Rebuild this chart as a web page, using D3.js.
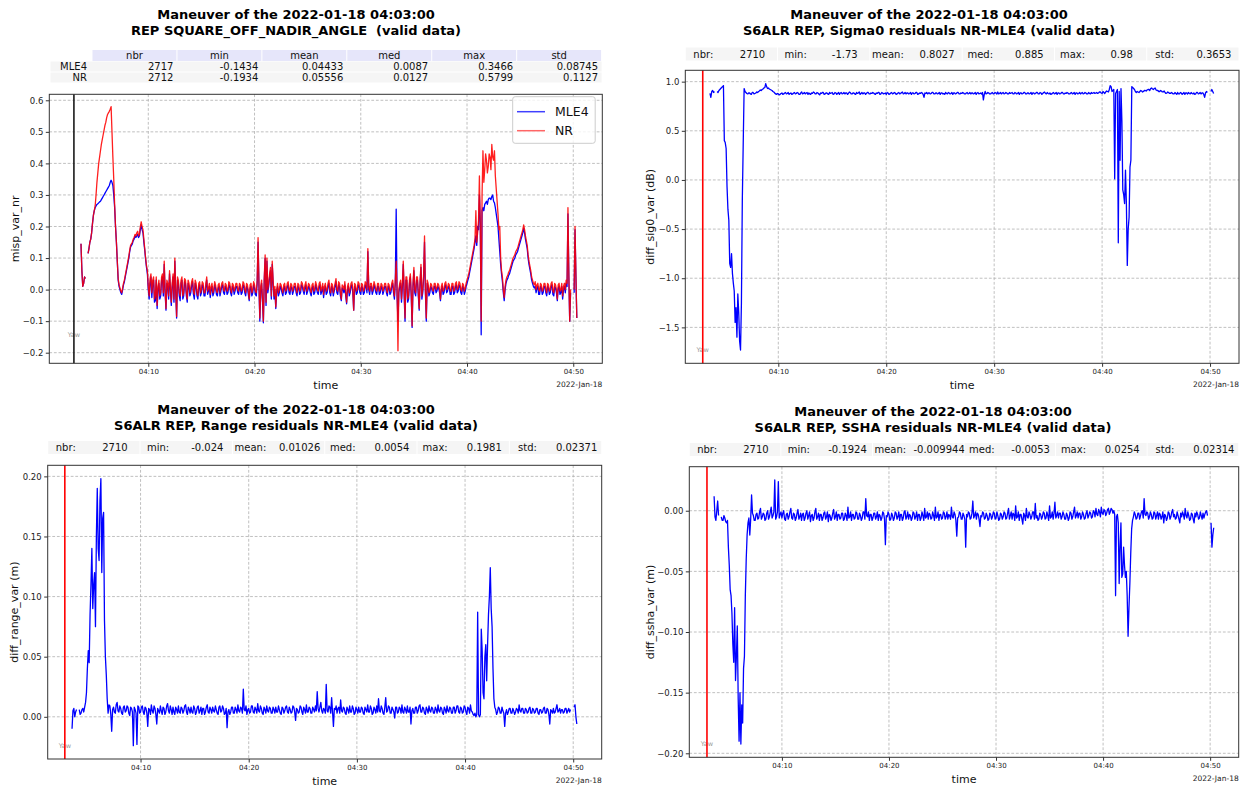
<!DOCTYPE html>
<html>
<head>
<meta charset="utf-8">
<title>Maneuver of the 2022-01-18 04:03:00</title>
<script src="https://cdn.jsdelivr.net/npm/d3@7/dist/d3.min.js"></script>
<style>
  html, body { margin: 0; padding: 0; background: #ffffff; }
  svg { display: block; }
  text { font-family: "DejaVu Sans", "Liberation Sans", sans-serif; }
</style>
</head>
<body>
<svg id="fig" width="1244" height="789"></svg>
<script>
// ---------------------------------------------------------------------------
// Data. Each series has values on the 10-second marks starting 04:03:40 UTC
// (xxx) and values at the 5-second instants in between (xxxMid).
// null = no valid measurement.
// ---------------------------------------------------------------------------
const maneuverTime = "2022-01-18T04:03:00Z";
const sampleStart = "2022-01-18T04:03:40Z";
const sampleStepSec = 10;
const timeTicks = ["2022-01-18T04:10:00Z", "2022-01-18T04:20:00Z", "2022-01-18T04:30:00Z",
                   "2022-01-18T04:40:00Z", "2022-01-18T04:50:00Z"];
const dateLabel = "2022-Jan-18";

// square off-nadir angle, MLE4 retracker
const mispMLE4 = [
  .145,.01,.04,null,.115,.15,.18,.235,.26,.27,
  .275,.28,.29,.30,.31,.32,.33,.3466,.33,.26,
  .15,.03,.0,-.015,.015,.04,.07,.1,.135,.145,
  .16,.165,.175,.17,.205,.18,.125,.07,.0,.02,
  -.025,.03,-.035,-.06,.02,-.02,.04,.08,-.065,.01,
  .05,-.05,.04,.09,-.09,.02,-.035,.03,-.02,.02,
  -.04,.01,-.01,.025,-.03,.01,-.03,.015,-.01,.01,
  -.02,.03,-.005,-.025,.01,-.01,.005,-.02,.01,-.005,
  .015,-.015,.005,-.01,.01,-.02,.005,-.005,.01,-.015,
  .005,-.01,.01,-.02,.005,-.035,.01,-.01,.005,-.02,
  .15,-.1,.02,-.105,.1,.09,.01,.06,.08,-.03,
  -.06,.01,-.01,.005,-.02,.01,-.01,.015,-.015,.005,
  -.005,.01,-.02,.005,-.01,.01,-.015,.015,-.005,.005,
  -.02,.01,-.01,.005,-.015,.015,-.005,-.025,.01,-.01,
  .02,-.02,.005,-.005,.025,-.015,.01,-.035,.0,.015,
  -.045,.01,-.01,.015,-.065,.005,-.01,.01,-.015,.005,
  -.01,.01,.12,-.015,.01,-.005,.005,-.015,.01,-.01,
  .005,-.005,.01,-.02,.005,-.01,.02,-.03,.255,-.1,
  .01,-.04,.08,-.1,.03,-.03,.04,-.12,.06,-.02,
  .03,-.065,.07,-.01,.15,-.1,.01,-.01,.005,-.015,
  .01,-.005,.005,-.035,.01,-.01,.015,-.005,.005,-.015,
  .01,-.01,.015,-.005,.01,-.015,.005,-.005,.02,.04,
  .07,.1,.13,.17,.2,.3,-.1434,.26,.27,.28,
  .285,.29,.295,.28,.26,.22,.16,.08,.025,-.035,
  .02,.035,.05,.07,.09,.1,.115,.13,.15,.17,
  .195,.16,.13,.08,.05,.02,.005,-.01,.01,-.015,
  .005,-.01,.01,-.02,.005,-.01,.015,-.02,.005,-.035,
  .01,-.01,-.03,.01,.02,.24,-.1,null,null,.19,
  -.09
];
const mispMLE4Mid = [
  .06,.02,.035,null,.13,.16,.21,.25,.265,.272,
  .278,.285,.295,.305,.315,.325,.34,.34,.3,.2,
  .09,.01,-.01,.0,.025,.055,.085,.12,.14,.155,
  .17,.17,.165,.19,.19,.15,.095,.05,-.03,.04,
  .02,-.04,.03,.0,-.03,.03,-.02,-.01,.02,-.03,
  .0,.01,-.04,-.01,.03,-.02,.02,-.03,.025,-.02,
  .02,-.02,.015,-.015,.02,-.02,.01,-.02,.015,-.02,
  .01,-.015,.01,.0,-.02,.015,-.015,.005,-.02,.01,
  -.01,.01,-.015,.015,-.01,.01,-.015,.01,-.01,.01,
  -.015,.015,-.01,.01,-.015,.005,-.02,.015,-.015,.02,
  .01,.0,-.04,.03,-.05,-.01,.04,-.03,.02,.0,
  -.01,-.02,.01,-.01,.005,-.015,.01,-.01,.01,-.015,
  .01,-.01,.01,-.015,.015,-.005,.005,-.015,.01,-.01,
  .005,-.015,.015,-.01,.01,-.015,.01,.0,-.015,.01,
  -.01,.01,-.02,.01,-.01,.015,-.02,.005,-.01,-.02,
  .0,-.02,.01,-.01,.01,-.015,.015,-.01,.01,-.015,
  .015,-.01,.0,.01,-.015,.015,-.01,.01,-.015,.01,
  -.015,.01,-.01,.01,-.015,.01,-.01,.02,-.02,-.01,
  .02,.01,-.02,.03,-.04,.02,-.02,.01,-.01,.03,
  -.02,.02,-.03,.04,-.01,.02,-.02,.01,-.01,.01,
  -.01,.01,-.01,.0,-.015,.01,-.01,.01,-.015,.01,
  -.015,.01,-.01,.015,-.01,.01,-.015,.01,.03,.055,
  .085,.115,.15,.14,.19,.21,.25,.25,.275,.27,
  .29,.285,.3,.275,.24,.2,.12,.05,-.01,.0,
  .03,.045,.06,.08,.095,.11,.12,.14,.16,.18,
  .18,.145,.1,.065,.03,.01,.01,.005,-.015,.01,
  -.015,.01,-.01,.01,-.015,.01,-.015,.01,-.01,.005,
  -.015,.01,.0,-.01,.01,.04,-.01,null,-.01,.04
];

// square off-nadir angle, NR retracker
const mispNR = [
  .145,.01,.04,null,.115,.15,.18,.235,.265,.34,
  .40,.44,.475,.505,.53,.555,.565,.5799,.42,.27,
  .15,.035,.005,-.01,.02,.045,.075,.105,.14,.15,
  .165,.17,.185,.175,.215,.19,.13,.075,.01,.035,
  -.01,.04,-.02,-.05,.03,-.01,.05,.09,-.06,.02,
  .06,-.04,.05,.1,-.085,.03,-.02,.04,-.01,.03,
  -.03,.02,.005,.035,-.015,.02,-.02,.025,.0,.02,
  -.01,.04,.005,-.015,.02,.0,.015,-.01,.02,.005,
  .025,-.005,.015,.0,.02,-.01,.015,.005,.02,-.005,
  .015,.0,.02,-.01,.015,-.03,.02,.0,.015,-.01,
  .165,-.09,.03,-.1,.11,.1,.02,.07,.09,-.02,
  -.055,.02,.0,.015,-.01,.02,.0,.025,-.005,.015,
  .005,.02,-.01,.015,.0,.02,-.005,.025,.005,.015,
  -.01,.02,.0,.015,-.005,.025,.005,-.015,.02,.0,
  .03,-.01,.015,.005,.035,-.005,.02,-.03,.01,.025,
  -.04,.02,.0,.025,-.065,.015,.0,.02,-.005,.015,
  .0,.02,.13,-.005,.02,.005,.015,-.005,.02,.0,
  .015,.005,.02,-.01,.015,.0,.03,-.02,.09,-.1934,
  .02,-.03,.09,-.09,.04,-.02,.05,-.115,.07,-.01,
  .04,-.06,.08,.0,.17,-.09,.02,.0,.015,-.005,
  .02,.005,.015,-.03,.02,.0,.025,.005,.015,-.005,
  .02,.0,.025,.005,.02,-.005,.015,.005,.03,.05,
  .08,.11,.14,.25,.18,.36,-.1,.44,.38,.41,
  .39,.42,.46,.41,.36,.28,.19,.1,.04,-.025,
  .03,.045,.06,.08,.1,.11,.125,.14,.16,.18,
  .205,.17,.14,.09,.06,.03,.015,.0,.02,-.005,
  .015,.0,.02,-.01,.015,.0,.025,-.01,.015,-.03,
  .02,.0,-.02,.02,.03,.26,-.1,null,null,.2,
  -.09
];
const mispNRMid = [
  .06,.02,.035,null,.13,.16,.21,.25,.3,.37,
  .42,.46,.49,.52,.545,.56,.572,.5,.35,.2,
  .09,.015,-.005,.005,.03,.06,.09,.125,.145,.16,
  .175,.18,.17,.2,.2,.16,.1,.06,-.02,.05,
  .03,-.03,.04,.01,-.02,.04,-.01,.0,.03,-.02,
  .01,.02,-.03,.0,.04,-.01,.03,-.02,.035,-.01,
  .03,-.01,.025,-.005,.03,-.01,.02,-.01,.025,-.01,
  .02,-.005,.02,.01,-.01,.025,-.005,.015,-.01,.02,
  .0,.02,-.005,.025,.0,.02,-.005,.02,.0,.02,
  -.005,.025,.0,.02,-.005,.015,-.01,.025,-.005,.03,
  .02,.01,-.03,.04,-.04,.0,.05,-.02,.03,.01,
  .0,-.01,.02,.0,.015,-.005,.02,.0,.02,-.005,
  .02,.0,.02,-.005,.025,.005,.015,-.005,.02,.0,
  .015,-.005,.025,.0,.02,-.005,.02,.01,-.005,.02,
  .0,.02,-.01,.02,.0,.025,-.01,.015,.0,-.01,
  .01,-.01,.02,.0,.02,-.005,.025,.0,.02,-.005,
  .025,.0,.01,.02,-.005,.025,.0,.02,-.005,.02,
  -.005,.02,.0,.02,-.005,.02,.0,.03,.0,.0,
  .03,.02,.0,.04,-.03,.03,-.01,.02,.0,.04,
  -.01,.03,-.02,.05,.0,.03,-.01,.02,.0,.02,
  .0,.02,.0,.01,-.005,.02,.0,.02,-.005,.02,
  -.005,.02,.0,.025,.0,.02,-.005,.02,.04,.065,
  .095,.125,.16,.15,.22,.2,.3,.34,.43,.37,
  .43,.38,.42,.44,.32,.24,.2,.06,.0,.01,
  .04,.055,.07,.09,.105,.12,.13,.15,.17,.19,
  .19,.155,.11,.075,.04,.02,.025,.015,.0,.02,
  -.005,.02,.0,.02,-.005,.02,-.005,.02,.0,.015,
  -.005,.02,.01,.0,.02,.05,.0,null,.0,.05
];

// sigma0 difference NR - MLE4 (dB)
const sig0Diff = [
  .88,.9,.89,null,.9,.91,.93,.95,.4,.32,
  -.3,-.85,-.75,-1.05,-1.45,-1.6,-1.35,-1.73,-.2,.93,
  .89,.875,.885,.87,.89,.88,.895,.9,.915,.92,
  .935,.98,.93,.925,.915,.9,.885,.87,.875,.87,
  .885,.875,.89,.88,.87,.885,.875,.89,.88,.885,
  .87,.895,.88,.875,.89,.885,.87,.88,.89,.875,
  .885,.865,.88,.89,.875,.885,.87,.88,.89,.875,
  .885,.88,.87,.89,.88,.875,.885,.88,.89,.875,
  .885,.87,.88,.895,.88,.875,.885,.88,.89,.875,
  .88,.885,.87,.88,.89,.875,.885,.88,.87,.885,
  .875,.89,.88,.885,.875,.89,.88,.895,.88,.875,
  .885,.88,.87,.885,.88,.89,.875,.88,.885,.84,
  .88,.875,.885,.88,.89,.875,.885,.88,.87,.885,
  .88,.89,.875,.885,.88,.87,.885,.88,.89,.875,
  .88,.885,.875,.89,.88,.875,.885,.88,.87,.89,
  .88,.875,.815,.9,.88,.885,.875,.89,.88,.885,
  .895,.88,.875,.89,.88,.885,.875,.88,.89,.875,
  .885,.88,.87,.885,.88,.89,.875,.885,.88,.87,
  .885,.88,.89,.875,.885,.88,.895,.875,.88,.885,
  .875,.89,.88,.87,.885,.88,.89,.875,.88,.885,
  .875,.89,.88,.87,.885,.88,.875,.89,.88,.885,
  .875,.88,.89,.885,.88,.89,.885,.895,.88,.89,
  .895,.9,.92,.95,.91,.01,.9,-.64,.2,.6,
  -.15,.1,-.87,-.38,.2,.94,.92,.89,.895,.9,
  .905,.9,.91,.915,.92,.93,.925,.93,.915,.91,
  .9,.905,.895,.89,.885,.89,.88,.885,.875,.88,
  .89,.875,.885,.88,.87,.885,.89,.875,.88,.885,
  .875,.89,.88,.875,.885,.84,.9,null,null,.92,
  .88
];
const sig0DiffMid = [
  .84,.91,.9,null,.89,.92,.94,.96,.38,-.07,
  -.41,-.89,-.95,-1.13,-1.3,-1.16,-1.64,-1.25,.37,.9,
  .88,.885,.875,.89,.875,.885,.89,.905,.91,.925,
  .94,.95,.935,.92,.91,.895,.875,.88,.865,.88,
  .87,.885,.875,.89,.88,.87,.885,.875,.89,.87,
  .885,.875,.89,.885,.87,.875,.885,.895,.875,.89,
  .875,.885,.89,.87,.885,.875,.89,.885,.87,.89,
  .87,.89,.885,.875,.89,.885,.87,.895,.875,.885,
  .875,.89,.885,.87,.89,.885,.87,.89,.875,.885,
  .89,.875,.885,.89,.87,.89,.875,.885,.89,.87,
  .885,.875,.89,.87,.885,.875,.89,.875,.89,.885,
  .875,.89,.885,.875,.89,.87,.885,.89,.87,.885,
  .89,.885,.875,.89,.875,.885,.875,.89,.885,.875,
  .87,.88,.89,.875,.89,.885,.875,.89,.875,.885,
  .89,.875,.885,.875,.89,.885,.875,.89,.885,.875,
  .885,.89,.87,.875,.89,.875,.885,.875,.89,.875,
  .875,.89,.885,.875,.89,.875,.89,.885,.875,.89,
  .875,.89,.885,.875,.89,.875,.885,.875,.89,.885,
  .875,.89,.875,.89,.87,.89,.88,.89,.875,.87,
  .885,.875,.89,.885,.875,.89,.875,.885,.89,.875,
  .885,.875,.89,.885,.875,.89,.885,.875,.89,.875,
  .89,.875,.88,.89,.885,.88,.895,.885,.9,.88,
  .905,.895,.96,.9,.92,.88,.92,.9,.93,-.1,
  -.24,-.24,-.5,.13,.95,.93,.9,.9,.89,.91,
  .895,.91,.905,.92,.91,.935,.92,.935,.91,.9,
  .91,.895,.905,.88,.895,.88,.89,.875,.89,.87,
  .875,.89,.87,.89,.885,.875,.88,.89,.875,.87,
  .89,.875,.89,.885,.87,.885,.89,null,.9,.9
];

// range difference NR - MLE4 (m)
const rangeDiff = [
  -.01,.007,.004,null,.006,.003,.007,.008,.02,.055,
  .085,.14,.11,.075,.19,.13,.1981,.165,.08,.035,
  .003,.009,-.012,.008,.003,.012,.004,.007,.002,.009,
  .005,.008,.001,.007,-.024,.006,-.023,.008,.004,.009,
  .002,.007,-.008,.006,.01,.003,.007,-.006,.005,.009,
  .002,.007,.004,.011,.003,.006,.008,.002,.006,.009,
  .003,.007,.005,.01,.002,.006,.008,.003,.007,.004,
  .009,.005,.002,.007,.004,.01,.003,.006,.008,.004,
  .006,.002,.009,.005,.007,.003,-.009,.006,.004,.008,
  .003,.006,.01,.004,.007,.023,.005,.002,.007,.004,
  .009,.003,.006,.011,.004,.007,.002,.006,.009,.004,
  .007,.003,.006,.008,.004,.006,.002,.007,.005,.009,
  .003,.006,.004,.008,-.003,.006,.004,.008,.002,.006,
  .01,.004,.007,.003,.006,.009,.021,.004,.012,.003,
  .006,.027,.004,.008,.016,-.008,.006,.003,.008,.014,
  .004,.007,.002,.006,.009,.004,.007,.003,.006,.008,
  .004,.007,.002,.006,.01,.004,.007,.003,.006,.009,
  .015,.004,.007,.002,.016,.005,.008,.003,.006,-.001,
  .008,.004,.007,.01,.003,.006,.009,.004,-.006,.007,
  .003,.008,.005,.01,.004,.007,.002,.006,.009,.004,
  .007,.003,.006,.01,.004,.007,.002,.006,.009,.004,
  .007,.003,.008,.005,.009,.003,.007,.004,.008,.002,
  .007,.01,.004,.001,.0,.087,.0,.073,.02,.05,
  .03,.085,.124,.075,.015,.006,.004,.007,.003,.005,
  -.008,.006,.004,.007,.003,.005,.004,.006,.01,.004,
  .007,.003,.006,.004,.008,.003,.006,.004,.007,.002,
  .006,.004,.008,.003,.006,-.006,.005,.007,.004,.01,
  .005,.003,.006,.004,.007,.005,.004,null,null,.01,
  -.006
];
const rangeDiffMid = [
  .005,.0,.006,null,.002,.006,.004,.012,.04,.045,
  .11,.09,.12,.15,.14,.18,.12,.17,.05,.015,
  .01,.002,.006,.004,.01,.005,.009,.003,.008,.004,
  .009,.003,.008,.004,.008,.003,.009,.003,.008,.004,
  .008,.003,.007,.002,.005,.009,.002,.007,.003,.005,
  .008,.002,.009,.005,.009,.002,.004,.008,.003,.004,
  .008,.003,.009,.004,.008,.003,.004,.009,.002,.008,
  .003,.008,.007,.002,.008,.004,.008,.003,.005,.009,
  .003,.008,.004,.009,.002,.007,.004,.002,.008,.003,
  .008,.003,.005,.008,.003,.006,.009,.006,.003,.009,
  .004,.008,.003,.005,.009,.003,.008,.003,.005,.008,
  .003,.008,.003,.004,.009,.003,.008,.003,.008,.004,
  .008,.003,.009,.004,.007,.003,.009,.004,.008,.003,
  .004,.008,.003,.008,.004,.005,.007,.008,.005,.007,
  .003,.005,.009,.003,.004,.007,.009,.007,.003,.005,
  .008,.003,.008,.003,.004,.009,.002,.008,.003,.004,
  .008,.003,.008,.004,.004,.009,.002,.008,.003,.004,
  .005,.009,.003,.008,.004,.009,.003,.008,.004,.008,
  .003,.008,.003,.004,.008,.003,.004,.008,.005,.003,
  .008,.003,.009,.004,.008,.003,.008,.003,.005,.008,
  .003,.008,.003,.005,.008,.003,.008,.003,.005,.008,
  .003,.008,.003,.009,.004,.008,.003,.009,.004,.008,
  .003,.005,.002,.003,.002,.002,.002,.055,.015,.06,
  .06,.1,.09,.04,.008,.002,.008,.003,.008,.003,
  .003,.002,.007,.003,.007,.002,.007,.003,.005,.007,
  .003,.007,.003,.007,.003,.007,.003,.007,.003,.006,
  .003,.007,.003,.007,.002,.006,.003,.003,.007,.004,
  .007,.006,.003,.007,.003,.007,.006,null,.008,.0
];

// SSHA difference NR - MLE4 (m)
const sshaDiff = [
  .012,-.008,.008,null,-.005,-.008,-.006,-.01,-.03,-.065,
  -.085,-.125,-.14,-.095,-.19,-.1924,-.175,-.12,-.04,-.01,
  -.02,.013,-.004,-.008,-.002,-.006,.002,-.005,-.003,-.007,
  .0,-.005,.003,-.004,.0254,-.005,.024,-.003,-.006,.0,
  -.008,-.002,-.005,.002,-.007,-.003,-.006,.001,-.005,-.008,
  -.002,-.006,.0,-.004,-.009,-.003,-.006,.002,-.005,-.008,
  -.003,-.006,-.001,-.005,-.009,-.004,-.006,.001,-.005,-.008,
  -.003,-.006,-.002,-.007,-.004,.003,-.005,-.008,-.003,-.006,
  -.002,-.007,-.004,-.006,-.001,.01,-.005,-.008,-.003,-.006,
  -.002,-.005,-.008,-.004,-.006,-.002,-.028,-.005,-.003,-.007,
  -.004,-.006,-.002,-.005,-.008,-.003,-.006,.0,-.005,-.007,
  -.004,-.006,-.002,-.005,-.008,-.003,-.006,-.004,.002,-.005,
  -.007,-.003,-.006,-.004,.003,-.005,-.008,-.003,-.006,-.002,
  -.005,-.007,-.004,.003,-.006,-.003,-.021,-.005,-.002,-.007,
  -.004,-.03,-.005,-.002,-.006,.008,-.004,-.007,-.003,-.013,
  -.005,-.002,-.006,-.004,-.007,-.003,-.005,-.002,-.006,-.004,
  -.007,-.003,-.005,-.002,-.006,.002,-.004,-.007,-.003,.004,
  -.005,-.008,-.003,-.011,-.004,.002,-.006,-.003,-.005,-.001,
  .006,-.004,-.007,-.003,-.005,-.002,-.006,-.004,.004,-.005,
  -.007,.007,-.004,-.006,-.002,-.005,-.003,-.007,-.004,-.006,
  -.002,-.005,.003,-.004,-.006,-.002,-.005,-.003,-.006,.0,
  -.004,-.002,-.005,-.001,.002,-.004,-.001,.003,-.003,.0,
  -.002,.002,-.001,.001,.0,-.07,-.003,-.06,-.01,-.052,
  -.045,-.05,-.1035,-.06,-.015,-.005,-.003,-.006,-.002,-.004,
  .0,.01,-.004,-.002,-.005,-.003,-.006,-.002,-.004,-.007,
  -.003,-.005,-.01,-.004,-.006,-.002,-.005,.001,-.003,-.006,
  -.004,-.01,-.005,-.003,.002,-.006,-.004,-.007,-.003,-.01,
  -.005,-.003,-.006,-.004,-.002,-.003,.0,null,null,-.03,
  -.014
];
const sshaDiffMid = [
  -.005,.0,-.004,null,-.008,-.004,-.009,-.008,-.045,-.07,
  -.11,-.08,-.12,-.155,-.15,-.16,-.13,-.07,-.02,-.006,
  -.007,-.002,-.008,-.003,-.007,-.001,-.007,-.002,-.008,-.002,
  -.007,-.001,-.006,-.001,-.007,-.001,-.006,-.001,-.002,-.007,
  -.003,-.007,-.001,-.006,-.002,-.008,-.002,-.007,-.002,-.003,
  -.008,-.002,-.007,-.001,-.004,-.008,-.001,-.007,-.002,-.003,
  -.008,-.002,-.007,-.001,-.003,-.008,-.002,-.007,-.001,-.003,
  -.007,-.002,-.008,-.002,-.008,-.006,-.001,-.003,-.007,-.001,
  -.007,-.002,-.008,-.001,-.007,-.004,-.001,-.003,-.008,-.002,
  -.007,-.001,-.003,-.008,-.001,-.007,-.004,-.001,-.008,-.002,
  -.008,-.001,-.007,-.001,-.003,-.008,-.001,-.007,-.001,-.003,
  -.008,-.001,-.007,-.001,-.003,-.008,-.001,-.008,-.006,-.001,
  -.002,-.007,-.001,-.008,-.006,-.001,-.003,-.007,-.001,-.007,
  -.001,-.003,-.007,-.005,-.001,-.008,-.006,-.001,-.007,-.002,
  -.007,-.003,-.001,-.007,-.002,-.006,-.001,-.002,-.007,-.004,
  -.001,-.007,-.002,-.008,-.002,-.007,-.001,-.007,-.001,-.008,
  -.002,-.007,-.001,-.007,-.002,-.007,-.001,-.002,-.008,-.006,
  -.001,-.003,-.007,-.002,-.008,-.005,-.001,-.007,-.001,-.007,
  -.006,-.008,-.002,-.007,-.001,-.007,-.001,-.008,-.006,-.001,
  -.002,-.006,-.001,-.002,-.007,-.001,-.007,-.002,-.008,-.001,
  -.007,-.001,-.006,-.001,-.002,-.007,-.001,-.007,-.002,-.006,
  -.001,-.006,.0,-.005,-.003,.001,-.005,-.002,.001,-.004,
  .001,-.003,.002,-.002,-.003,-.005,-.01,-.03,-.055,-.03,
  -.055,-.07,-.08,-.035,-.008,-.001,-.007,-.002,-.007,-.001,
  -.006,-.003,-.001,-.007,-.001,-.007,-.001,-.007,-.001,-.002,
  -.007,-.001,-.003,-.008,-.001,-.007,-.001,-.005,-.007,-.001,
  -.007,-.002,-.001,-.007,-.004,-.001,-.008,-.002,-.007,-.002,
  -.001,-.007,-.001,-.007,-.006,-.001,-.004,null,-.01,-.02
];

// axis ticks
const mispTicks = [-0.2, -0.1, 0, 0.1, 0.2, 0.3, 0.4, 0.5, 0.6];
const sig0Ticks = [-1.5, -1.0, -0.5, 0, 0.5, 1.0];
const rangeTicks = [0, 0.05, 0.10, 0.15, 0.20];
const sshaTicks = [-0.20, -0.15, -0.10, -0.05, 0];

// summary statistics shown above each plot
const statsFields = ["nbr", "min", "mean", "med", "max", "std"];
const mispStatsRows = ["MLE4", "NR"];
const mispStatsMLE4 = ["2717", "-0.1434", "0.04433", "0.0087", "0.3466", "0.08745"];
const mispStatsNR = ["2712", "-0.1934", "0.05556", "0.0127", "0.5799", "0.1127"];
const sig0Stats = ["2710", "-1.73", "0.8027", "0.885", "0.98", "0.3653"];
const rangeStats = ["2710", "-0.024", "0.01026", "0.0054", "0.1981", "0.02371"];
const sshaStats = ["2710", "-0.1924", "-0.009944", "-0.0053", "0.0254", "0.02314"];

// ---------------------------------------------------------------------------
// Drawing
// ---------------------------------------------------------------------------
const svg = d3.select("#fig");
const t0 = Date.parse(sampleStart);
const stepMs = sampleStepSec * 1000;

// merge the on-mark values and the half-step values into one time-ordered series
function toPoints(vals, mids) {
  const pts = [];
  vals.forEach((v, i) => {
    pts.push({ t: new Date(t0 + i * stepMs), v });
    if (mids && i < mids.length) pts.push({ t: new Date(t0 + i * stepMs + stepMs / 2), v: mids[i] });
  });
  return pts;
}
const uminus = s => s.replace(/-/g, "\u2212");
const titleLine1 = "Maneuver of the 2022-01-18 04:03:00";

const panels = [
  {
    key: "misp", left: 49.3, right: 602.3, top: 94.3, bottom: 363.3,
    xDomain: ["2022-01-18T04:00:41Z", "2022-01-18T04:52:44Z"], yDomain: [-0.2336, 0.619],
    yTicks: mispTicks, yFmt: ".1f", yLabel: "misp_var_nr", yLabelX: 15,
    title: [titleLine1, "REP SQUARE_OFF_NADIR_ANGLE  (valid data)"], titleX: 296, titleY: 19,
    markerColor: "#1a1a1a", yawAt: -0.1434,
    series: [{ name: "MLE4", values: mispMLE4, mids: mispMLE4Mid, color: "#0000ff", opacity: 1, legendOpacity: 0.75 },
             { name: "NR", values: mispNR, mids: mispNRMid, color: "#ff0000", opacity: 0.88, legendOpacity: 0.6 }],
    legend: true
  },
  {
    key: "sig0", left: 685.3, right: 1239, top: 70.3, bottom: 363.3,
    xDomain: ["2022-01-18T04:01:23Z", "2022-01-18T04:52:41Z"], yDomain: [-1.8655, 1.1155],
    yTicks: sig0Ticks, yFmt: ".1f", yLabel: "diff_sig0_var (dB)", yLabelX: 650,
    title: [titleLine1, "S6ALR REP, Sigma0 residuals NR-MLE4 (valid data)"], titleX: 929, titleY: 19,
    markerColor: "#ff0000", yawAt: -1.73,
    series: [{ name: "diff", values: sig0Diff, mids: sig0DiffMid, color: "#0000ff", opacity: 1 }],
    strip: { stats: sig0Stats, top: 47.5 }
  },
  {
    key: "range", left: 47.7, right: 601.7, top: 465.3, bottom: 759,
    xDomain: ["2022-01-18T04:01:25Z", "2022-01-18T04:52:38Z"], yDomain: [-0.0351, 0.2092],
    yTicks: rangeTicks, yFmt: ".2f", yLabel: "diff_range_var (m)", yLabelX: 14,
    title: [titleLine1, "S6ALR REP, Range residuals NR-MLE4 (valid data)"], titleX: 296, titleY: 414,
    markerColor: "#ff0000", yawAt: -0.024,
    series: [{ name: "diff", values: rangeDiff, mids: rangeDiffMid, color: "#0000ff", opacity: 1 }],
    strip: { stats: rangeStats, top: 441 }
  },
  {
    key: "ssha", left: 689.3, right: 1238.7, top: 466.7, bottom: 757.3,
    xDomain: ["2022-01-18T04:01:21Z", "2022-01-18T04:52:40Z"], yDomain: [-0.2033, 0.0363],
    yTicks: sshaTicks, yFmt: ".2f", yLabel: "diff_ssha_var (m)", yLabelX: 650,
    title: [titleLine1, "S6ALR REP, SSHA residuals NR-MLE4 (valid data)"], titleX: 933, titleY: 416,
    markerColor: "#ff0000", yawAt: -0.1924,
    series: [{ name: "diff", values: sshaDiff, mids: sshaDiffMid, color: "#0000ff", opacity: 1 }],
    strip: { stats: sshaStats, top: 443 }
  }
];

function drawPanel(p) {
  const g = svg.append("g").attr("class", "panel-" + p.key);
  const x = d3.scaleUtc().domain(p.xDomain.map(d => new Date(d))).range([p.left, p.right]);
  const y = d3.scaleLinear().domain(p.yDomain).range([p.bottom, p.top]);
  const xt = timeTicks.map(d => new Date(d));
  const cx = (p.left + p.right) / 2;

  // dashed grid
  const grid = g.append("g").attr("stroke", "#b0b0b0").attr("stroke-width", 0.8)
    .attr("stroke-dasharray", "2.8,1.8");
  grid.selectAll("line.gx").data(xt).join("line").attr("class", "gx")
    .attr("x1", d => x(d)).attr("x2", d => x(d)).attr("y1", p.top).attr("y2", p.bottom);
  grid.selectAll("line.gy").data(p.yTicks).join("line").attr("class", "gy")
    .attr("x1", p.left).attr("x2", p.right).attr("y1", d => y(d)).attr("y2", d => y(d));

  // clip region for the data
  const clipId = "clip-" + p.key;
  g.append("clipPath").attr("id", clipId).append("rect")
    .attr("x", p.left).attr("y", p.top).attr("width", p.right - p.left).attr("height", p.bottom - p.top);

  // "Yaw" annotation at the maneuver time
  const xm = x(new Date(maneuverTime));
  g.append("text").attr("x", xm).attr("y", y(p.yawAt)).attr("text-anchor", "middle")
    .attr("dominant-baseline", "central").attr("font-size", 6.5).attr("fill", "#999999").text("Yaw");

  const line = d3.line().defined(d => d.v !== null).x(d => x(d.t)).y(d => y(d.v));
  p.series.forEach(s => {
    g.append("path").datum(toPoints(s.values, s.mids)).attr("d", line)
      .attr("fill", "none").attr("stroke", s.color).attr("stroke-opacity", s.opacity)
      .attr("stroke-width", 1.3).attr("stroke-linejoin", "round").attr("clip-path", `url(#${clipId})`);
  });

  // maneuver marker
  g.append("line").attr("x1", xm).attr("x2", xm).attr("y1", p.top).attr("y2", p.bottom)
    .attr("stroke", p.markerColor).attr("stroke-width", 1.6);

  // frame
  g.append("rect").attr("x", p.left).attr("y", p.top).attr("width", p.right - p.left)
    .attr("height", p.bottom - p.top).attr("fill", "none").attr("stroke", "#333").attr("stroke-width", 1);

  // axes
  const ax = g.append("g").attr("transform", `translate(0,${p.bottom})`)
    .call(d3.axisBottom(x).tickValues(xt).tickFormat(d3.utcFormat("%H:%M")).tickSize(3.5).tickPadding(2.5));
  ax.select(".domain").remove();
  ax.attr("font-family", null).attr("font-size", 7);
  ax.selectAll("line").attr("stroke", "#333");
  ax.selectAll("text").attr("fill", "#222");

  const ay = g.append("g").attr("transform", `translate(${p.left},0)`)
    .call(d3.axisLeft(y).tickValues(p.yTicks).tickFormat(d => uminus(d3.format(p.yFmt)(d))).tickSize(3.5).tickPadding(2.5));
  ay.select(".domain").remove();
  ay.attr("font-family", null).attr("font-size", 8.5);
  ay.selectAll("line").attr("stroke", "#333");
  ay.selectAll("text").attr("fill", "#222");

  // axis labels and date offset
  g.append("text").attr("x", cx).attr("y", p.bottom + 22).attr("text-anchor", "middle")
    .attr("dominant-baseline", "central").attr("font-size", 11).attr("fill", "#111").text("time");
  g.append("text").attr("x", p.right).attr("y", p.bottom + 21).attr("text-anchor", "end")
    .attr("dominant-baseline", "central").attr("font-size", 7.5).attr("fill", "#222").text(dateLabel);
  g.append("text").attr("transform", `translate(${p.yLabelX},${(p.top + p.bottom) / 2}) rotate(-90)`)
    .attr("text-anchor", "middle").attr("dominant-baseline", "central")
    .attr("font-size", 11).attr("fill", "#111").text(p.yLabel);

  // two-line title
  g.append("text").attr("x", p.titleX).attr("y", p.titleY).attr("text-anchor", "middle")
    .attr("font-size", 13).attr("font-weight", "bold").style("white-space", "pre").text(p.title[0]);
  g.append("text").attr("x", p.titleX).attr("y", p.titleY + 15.5).attr("text-anchor", "middle")
    .attr("font-size", 13).attr("font-weight", "bold").style("white-space", "pre").text(p.title[1]);

  if (p.legend) drawLegend(g, p);
  if (p.strip) drawStrip(g, p);
}

function drawLegend(g, p) {
  const lg = g.append("g");
  lg.append("rect").attr("x", 512.7).attr("y", 96.7).attr("width", 82.5).attr("height", 46.6)
    .attr("rx", 2.5).attr("fill", "#ffffff").attr("fill-opacity", 0.8)
    .attr("stroke", "#cccccc").attr("stroke-width", 1);
  p.series.forEach((s, i) => {
    const yy = 111.7 + i * 19;
    lg.append("line").attr("x1", 517).attr("x2", 545).attr("y1", yy).attr("y2", yy)
      .attr("stroke", s.color).attr("stroke-opacity", s.legendOpacity).attr("stroke-width", 1.5);
    lg.append("text").attr("x", 555).attr("y", yy).attr("dominant-baseline", "central")
      .attr("font-size", 12.5).attr("fill", "#111").text(s.name);
  });
}

// two-row statistics grid (misp panel)
function drawStatsGrid() {
  const left = 92, right = 601.6, labelLeft = 50.5, top = 50, rowH = 11;
  const colW = (right - left) / statsFields.length;
  const tg = svg.append("g").attr("font-size", 10);
  statsFields.forEach((f, i) => {
    tg.append("rect").attr("x", left + i * colW + 0.5).attr("y", top).attr("width", colW - 1).attr("height", rowH)
      .attr("fill", "#e6e6fa");
    tg.append("text").attr("x", left + (i + 0.5) * colW).attr("y", top + rowH / 2).attr("text-anchor", "middle")
      .attr("dominant-baseline", "central").attr("fill", "#111").text(f);
  });
  [mispStatsMLE4, mispStatsNR].forEach((row, r) => {
    const yy = top + rowH * (r + 1);
    tg.append("rect").attr("x", labelLeft).attr("y", yy + 0.5).attr("width", right - labelLeft).attr("height", rowH - 1)
      .attr("fill", "#f5f5f5");
    tg.append("text").attr("x", left - 5).attr("y", yy + rowH / 2).attr("text-anchor", "end")
      .attr("dominant-baseline", "central").attr("fill", "#111").text(mispStatsRows[r]);
    row.forEach((v, i) => {
      tg.append("text").attr("x", left + (i + 1) * colW - 3.5).attr("y", yy + rowH / 2).attr("text-anchor", "end")
        .attr("dominant-baseline", "central").attr("fill", "#111").text(v);
    });
  });
}

// single-row "name: value" strip above a residual panel
function drawStrip(g, p) {
  const n = statsFields.length * 2;
  const w = (p.right - p.left) / n;
  const h = 13;
  const sg = g.append("g").attr("font-size", 10);
  statsFields.forEach((f, i) => {
    sg.append("rect").attr("x", p.left + 2 * i * w + 0.5).attr("y", p.strip.top).attr("width", 2 * w - 1)
      .attr("height", h).attr("fill", "#f5f5f5");
    sg.append("text").attr("x", p.left + (2 * i + 0.5) * w - 5).attr("y", p.strip.top + h / 2)
      .attr("text-anchor", "middle").attr("dominant-baseline", "central").attr("fill", "#111").text(f + ":");
    sg.append("text").attr("x", p.left + (2 * i + 1.5) * w - 2).attr("y", p.strip.top + h / 2)
      .attr("text-anchor", "middle").attr("dominant-baseline", "central").attr("fill", "#111").text(p.strip.stats[i]);
  });
}

panels.forEach(drawPanel);
drawStatsGrid();
</script>
</body>
</html>
